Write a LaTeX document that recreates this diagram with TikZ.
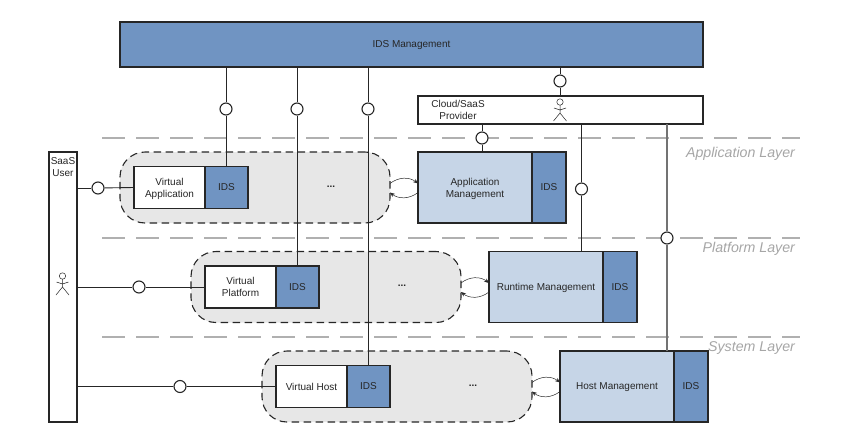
\documentclass[tikz,border=0pt]{standalone}
\usepackage{fontspec}
\setmainfont{Liberation Sans}
\definecolor{IdsBlue}{HTML}{7094C2}
\definecolor{MgmtBlue}{HTML}{C6D5E7}
\definecolor{BubbleGray}{HTML}{E7E7E7}
\definecolor{LayerGray}{HTML}{B0B0B0}
\definecolor{LabelGray}{HTML}{A6A6A6}
\definecolor{EdgeDark}{HTML}{262626}
\usetikzlibrary{arrows.meta,positioning}
\tikzset{
  actor/.pic={
    \draw[EdgeDark,line width=0.5pt] (0,-11) circle (3.2);
    \draw[EdgeDark,line width=0.5pt] (0,-8) -- (0,0) (-6,-5) -- (0,-3) -- (6,-5)
      (-6.5,8) -- (0,0) -- (6.5,8);
  }
}
\begin{document}
\begin{tikzpicture}[x=1pt,y=-1pt,
    box/.style={draw=EdgeDark,line width=1.1pt,fill=white,outer sep=0pt,
                inner sep=1pt,align=center,font=\fontsize{10}{12}\selectfont,
                text=EdgeDark,text depth=0pt},
    idsbox/.style={box,fill=IdsBlue},
    mgmtbox/.style={box,fill=MgmtBlue},
    bubble/.style={draw=EdgeDark,line width=1.1pt,fill=BubbleGray,
                   dash pattern=on 7.5pt off 4.5pt,rounded corners=25pt,
                   outer sep=0pt,minimum width=270pt,minimum height=71pt},
    iface/.style={circle,draw=EdgeDark,line width=1.1pt,fill=white,
                  minimum size=12pt,inner sep=0pt},
    conn/.style={EdgeDark,line width=0.9pt},
    layerline/.style={LayerGray,line width=1.3pt,dash pattern=on 23pt off 11pt},
    layertxt/.style={anchor=east,text=LabelGray,
                     font=\fontsize{14.2}{16}\selectfont\itshape},
    swap/.style={EdgeDark,line width=0.5pt,-{Stealth[length=5pt,width=4pt]}}]

    \useasboundingbox (0,0) rectangle (846,442);

    % layer separators
    \foreach \y in {138,238,337}{
      \draw[layerline] (102,\y) -- (800,\y);
    }
    \node[layertxt] (laya) at (798.5,154) {Application Layer};
    \node[layertxt] (layp) at (798.5,249) {Platform Layer};
    \node[layertxt] (lays) at (798.5,348) {System Layer};

    % top row
    \node[idsbox,minimum width=583pt,minimum height=45pt,anchor=north west]
      (idsm) at (120,22) {IDS Management};
    \node[box,minimum width=285pt,minimum height=28pt,anchor=north west]
      (cloud) at (418,96) {};
    \node[font=\fontsize{10}{12}\selectfont,align=center,text=EdgeDark]
      (cloudtxt) at (458,110) {Cloud/SaaS\\Provider};
    \pic at (560,113) {actor};

    % user column
    \node[box,minimum width=28pt,minimum height=270pt,anchor=north west]
      (user) at (49,152) {};
    \node[font=\fontsize{10}{12}\selectfont,align=center,text=EdgeDark,
          below=2pt of user.north] (usertxt) {SaaS\\User};
    \pic at (62.5,287) {actor};

    % one row per layer
    \foreach \n/\x/\y/\vtxt/\mtxt in {
        a/120/187.5/{Virtual\\Application}/{Application\\Management},
        p/191/287/{Virtual\\Platform}/{Runtime Management},
        s/262/386.5/{Virtual Host}/{Host Management}}{
      \node[bubble,anchor=west] (bub\n) at (\x,\y) {};
      \node[box,minimum width=71pt,minimum height=42pt,anchor=west]
        (virt\n) at (\x+14,\y) {\vtxt};
      \node[idsbox,minimum width=43pt,minimum height=42pt,right=0pt of virt\n]
        (ids\n) {IDS};
      \node[font=\bfseries\fontsize{10}{12}\selectfont,text=EdgeDark]
        (dots\n) at (\x+211,\y-1) {...};
      \node[mgmtbox,minimum width=114pt,minimum height=71pt,anchor=west]
        (mgmt\n) at (\x+298,\y) {\mtxt};
      \node[idsbox,minimum width=34pt,minimum height=71pt,right=0pt of mgmt\n]
        (mids\n) {IDS};
      \draw[swap] ([yshift=4pt]bub\n.east) to[bend left=38] ([yshift=4pt]mgmt\n.west);
      \draw[swap] ([yshift=-5pt]mgmt\n.west) to[bend left=38] ([yshift=-5pt]bub\n.east);
    }

    % ball connectors
    \node[iface] (ca) at (226,109) {};
    \node[iface] (cp) at (297,109) {};
    \node[iface] (cs) at (368,109) {};
    \node[iface] (cc) at (560,81) {};
    \node[iface] (cm) at (482,138) {};
    \node[iface] (cr) at (581.5,189) {};
    \node[iface] (ch) at (667,238) {};
    \node[iface] (ua) at (98,188) {};
    \node[iface] (up) at (139,287) {};
    \node[iface] (us) at (180,386.5) {};

    \foreach \c/\t in {ca/idsa,cp/idsp,cs/idss}{
      \draw[conn] (\c |- idsm.south) -- (\c);
      \draw[conn] (\c) -- (\c |- \t.north);
    }
    \draw[conn] (cc |- idsm.south) -- (cc);
    \draw[conn] (cc) -- (cc |- cloud.north);
    \draw[conn] (cm |- cloud.south) -- (cm);
    \draw[conn] (cm) -- (cm |- mgmta.north);
    \draw[conn] (cr |- cloud.south) -- (cr);
    \draw[conn] (cr) -- (cr |- mgmtp.north);
    \draw[conn,line width=1.3pt,black!55] (ch |- cloud.south) -- (ch);
    \draw[conn,line width=1.3pt,black!55] (ch) -- (ch |- mgmts.north);
    \foreach \c/\t in {ua/virta,up/virtp,us/virts}{
      \draw[conn] (user.east |- \c) -- (\c);
      \draw[conn] (\c) -- (\t.west);
    }
\end{tikzpicture}
\end{document}
